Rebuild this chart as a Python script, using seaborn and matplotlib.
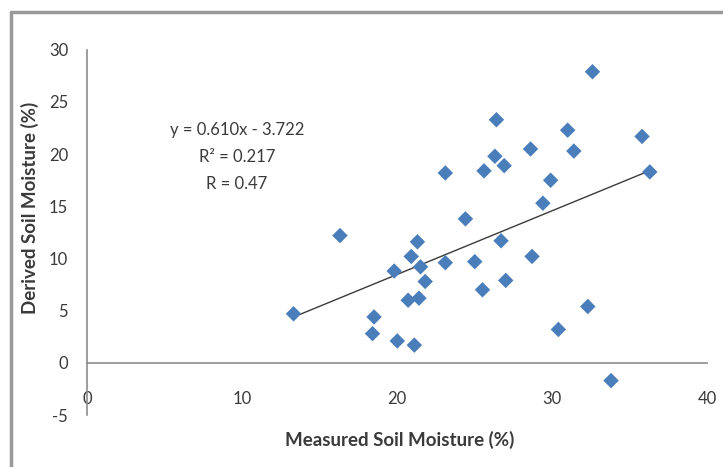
import numpy as np
import pandas as pd
import matplotlib.pyplot as plt
import seaborn as sns

# Measured vs derived soil moisture (%)
measured = [13.3, 16.3, 19.8, 18.5, 18.4, 20.0, 29.4, 24.4, 21.3, 26.7,
            20.9, 28.7, 21.5, 23.1, 25.0, 21.8, 27.0, 25.5, 20.7, 21.4,
            32.3, 30.4, 21.1, 33.8, 32.6, 26.4, 31.0, 35.8, 26.3, 28.6,
            31.4, 26.9, 23.1, 25.6, 29.9, 36.3]
derived = [4.7, 12.2, 8.8, 4.4, 2.8, 2.1, 15.3, 13.8, 11.6, 11.7,
           10.2, 10.2, 9.2, 9.6, 9.7, 7.8, 7.9, 7.0, 6.0, 6.2,
           5.4, 3.2, 1.7, -1.7, 27.9, 23.3, 22.3, 21.7, 19.8, 20.5,
           20.3, 18.9, 18.2, 18.4, 17.5, 18.3]

slope = 0.610
intercept = -3.722
fit_labels = ["y = 0.610x - 3.722", "R² = 0.217", "R = 0.47"]

x_ticks = [0, 10, 20, 30, 40]
y_ticks = [-5, 0, 5, 10, 15, 20, 25, 30]

df = pd.DataFrame({'Measured': measured, 'Derived': derived})

sns.set_style('white')
plt.rcParams['font.family'] = ['Lato', 'DejaVu Sans']
plt.rcParams['axes.unicode_minus'] = False

fig = plt.figure(figsize=(7.23, 4.67), dpi=100)
ax = fig.add_axes([0.121, 0.1113, 0.857, 0.782])

axis_grey = '#8c8c8c'
text_grey = '#3a3a3a'

# trend line over the range of the data
xl = np.array([min(measured), max(measured)])
ax.plot(xl, slope * xl + intercept, color='#3a3a3a', lw=1.0, zorder=2)

sns.scatterplot(data=df, x='Measured', y='Derived', marker='D', s=62,
                color='#4a7ebb', edgecolor='none', ax=ax, zorder=3)

ax.set_xlim(0, 40)
ax.set_ylim(-5, 30)
ax.set_xticks(x_ticks)
ax.set_yticks(y_ticks)
ax.set_xlabel('')
ax.set_ylabel('')

for side in ['top', 'right']:
    ax.spines[side].set_visible(False)
ax.spines['bottom'].set_position(('data', 0))
for side in ['left', 'bottom']:
    ax.spines[side].set_color(axis_grey)
    ax.spines[side].set_linewidth(1.2)

ax.tick_params(axis='x', direction='out', length=4, width=1, color=axis_grey,
               labelsize=12, labelcolor=text_grey, pad=16)
ax.tick_params(axis='y', direction='out', length=4, width=1, color=axis_grey,
               labelsize=12, labelcolor=text_grey, pad=10)

# regression annotation
for i, line in enumerate(fit_labels):
    fig.text(237 / 723, 1 - (130 + i * 27) / 467, line, ha='center', va='center',
             fontsize=12, color=text_grey)

fig.text(400 / 723, 1 - 440 / 467, 'Measured Soil Moisture (%)', ha='center',
         va='center', fontsize=13.5, fontweight='bold', color=text_grey)
fig.text(30 / 723, 1 - 208 / 467, 'Derived Soil Moisture (%)', ha='center',
         va='center', rotation=90, fontsize=13.5, fontweight='bold', color=text_grey)

# chart-area border (left and top edges only)
fig.add_artist(plt.Line2D([11 / 723, 11 / 723], [0, 1 - 12 / 467],
                          color='#999999', lw=2.5, transform=fig.transFigure))
fig.add_artist(plt.Line2D([11 / 723, 1], [1 - 12 / 467, 1 - 12 / 467],
                          color='#999999', lw=2.5, transform=fig.transFigure))

fig.savefig('out.png', dpi=100)
plt.close(fig)
